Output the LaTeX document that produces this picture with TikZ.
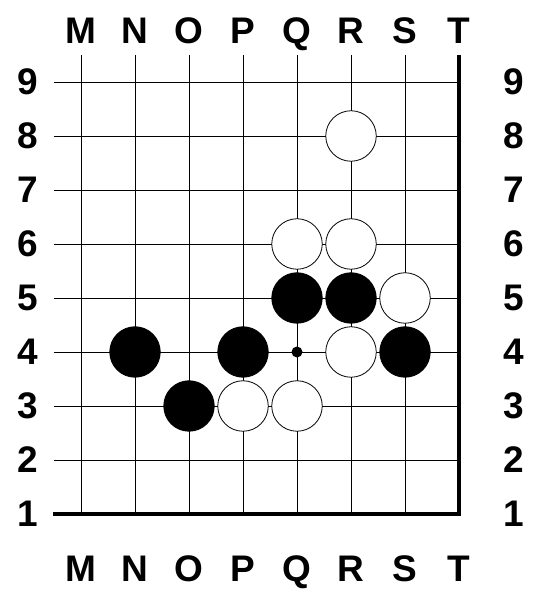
\documentclass[tikz,border=0pt]{standalone}
\usepackage{fontspec}
\setmainfont{Liberation Sans}
\usepackage{tikz}
\usetikzlibrary{positioning}

\begin{document}
\begin{tikzpicture}[
    x=54pt, y=54pt,
    gridline/.style={line width=0.9pt},
    boardedge/.style={line width=3.6pt, line join=miter},
    blackstone/.style={circle, draw=black, fill=black, line width=0.8pt, minimum size=50.5pt, inner sep=0pt},
    whitestone/.style={circle, draw=black, fill=white, line width=0.8pt, minimum size=50.5pt, inner sep=0pt},
    hoshi/.style={circle, fill=black, minimum size=11pt, inner sep=0pt},
    coordlabel/.style={font=\fontsize{37}{37}\selectfont\bfseries, inner sep=0pt},
]
    \useasboundingbox (-1.5,-1.5185) rectangle (8.537,9.5185);

    % Grid lines
    \foreach \y in {1,...,8} \draw[gridline] (-0.5,\y) -- (7,\y);
    \foreach \x in {0,...,6} \draw[gridline] (\x,8.5) -- (\x,0);
    \draw[boardedge] (-0.52,0) -- (7,0) -- (7,8.5);

    % Coordinates
    \foreach \l [count=\i from 0] in {M,N,O,P,Q,R,S,T} {
        \node[coordlabel, anchor=base] (top-\l) at (\i,8.72) {\l};
        \node[coordlabel, anchor=base] (bot-\l) at (\i,-1.25) {\l};
    }
    \foreach \r in {1,...,9} {
        \node[coordlabel] (left-\r) at (-0.981,\r-1) {\r};
        \node[coordlabel] (right-\r) at (8.019,\r-1) {\r};
    }

    % Star point
    \node[hoshi] (Q4) at (4,3) {};

    % Stones
    \foreach \n/\x/\y in {Q5/4/4, R5/5/4, N4/1/3, P4/3/3, S4/6/3, O3/2/2}
        \node[blackstone] (\n) at (\x,\y) {};
    \foreach \n/\x/\y in {R8/5/7, Q6/4/5, R6/5/5, S5/6/4, R4/5/3, P3/3/2, Q3/4/2}
        \node[whitestone] (\n) at (\x,\y) {};
\end{tikzpicture}
\end{document}
